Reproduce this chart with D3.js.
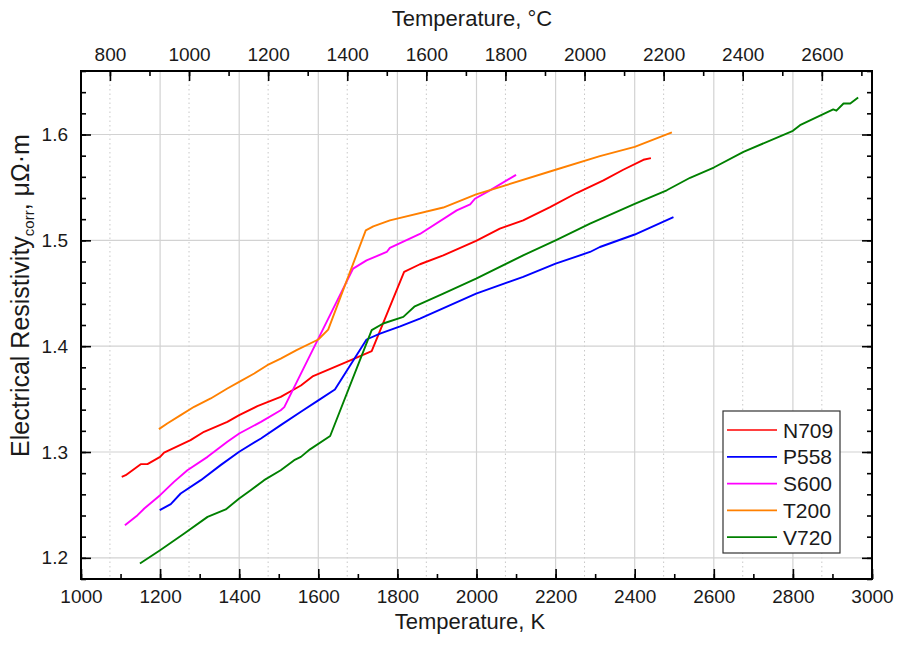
<!DOCTYPE html>
<html>
<head>
<meta charset="utf-8">
<script src="https://cdn.jsdelivr.net/npm/d3@7"></script>
<style>
  html, body { margin: 0; padding: 0; background: #fff; }
  svg { display: block; font-family: "Liberation Sans", Arial, sans-serif; }
</style>
</head>
<body>
<svg id="chart" width="900" height="647"></svg>
<script>
// Measured resistivity series: [temperature K, resistivity µΩ·m]
const n709 = [[1103,1.2765],[1113,1.2781],[1151,1.2885],[1168,1.2885],[1200,1.2954],[1210,1.2995],[1277,1.3112],[1311,1.3191],[1370,1.3285],[1400,1.3348],[1446,1.3433],[1505,1.3521],[1556,1.3628],[1587,1.3717],[1672,1.3852],[1735,1.3953],[1817,1.4701],[1857,1.4774],[1916,1.4858],[1999,1.4994],[2059,1.511],[2118,1.5189],[2186,1.5314],[2253,1.5447],[2321,1.5566],[2371,1.5667],[2422,1.5761],[2441,1.5777]];
const p558 = [[1199,1.245],[1227,1.2507],[1252,1.2608],[1303,1.2734],[1353,1.2876],[1400,1.3002],[1455,1.3128],[1505,1.3254],[1556,1.338],[1600,1.3488],[1642,1.3591],[1722,1.4063],[1756,1.4119],[1807,1.4187],[1857,1.4261],[1999,1.4497],[2118,1.4654],[2200,1.478],[2287,1.489],[2312,1.4937],[2400,1.5055],[2498,1.522]];
const s600 = [[1111,1.2309],[1143,1.2403],[1160,1.2466],[1200,1.2592],[1235,1.2718],[1269,1.2828],[1320,1.2954],[1370,1.3096],[1400,1.3175],[1455,1.3285],[1505,1.3395],[1514,1.3424],[1688,1.4733],[1722,1.4811],[1773,1.489],[1781,1.4928],[1857,1.506],[1950,1.5283],[1984,1.534],[1996,1.5393],[2034,1.5472],[2100,1.5619]];
const t200 = [[1197,1.3216],[1218,1.3269],[1252,1.3348],[1286,1.3427],[1328,1.3506],[1370,1.36],[1400,1.3663],[1438,1.3742],[1471,1.382],[1505,1.3883],[1545,1.3962],[1600,1.4063],[1625,1.4157],[1720,1.5094],[1739,1.5132],[1781,1.5189],[1916,1.531],[1999,1.5434],[2200,1.5667],[2312,1.5795],[2400,1.5883],[2494,1.602]];
const v720 = [[1149,1.1946],[1200,1.2072],[1261,1.223],[1320,1.2387],[1366,1.2457],[1400,1.2561],[1429,1.2639],[1463,1.2734],[1505,1.2828],[1539,1.2923],[1556,1.2954],[1579,1.3025],[1630,1.3151],[1735,1.4151],[1764,1.4214],[1815,1.4277],[1844,1.4377],[1916,1.4497],[1999,1.4638],[2118,1.4858],[2200,1.5],[2287,1.5157],[2400,1.5345],[2481,1.5473],[2540,1.5591],[2600,1.5688],[2675,1.5836],[2800,1.6035],[2818,1.6088],[2902,1.6237],[2910,1.6225],[2928,1.6293],[2945,1.6293],[2965,1.635]];

const seriesNames = ["N709", "P558", "S600", "T200", "V720"];
const seriesData = [n709, p558, s600, t200, v720];
const seriesColors = ["#ff0000", "#0000ff", "#ff00ff", "#ff8000", "#008000"];

const kelvinTicks = [1000, 1200, 1400, 1600, 1800, 2000, 2200, 2400, 2600, 2800, 3000];
const celsiusTicks = [800, 1000, 1200, 1400, 1600, 1800, 2000, 2200, 2400, 2600];
const rhoTicks = [1.2, 1.3, 1.4, 1.5, 1.6];

const svg = d3.select("#chart");
const m = { left: 81, top: 71, right: 872, bottom: 579 };

const x = d3.scaleLinear().domain([1000, 3000]).range([m.left, m.right]);
const xc = d3.scaleLinear().domain([1000 - 273.15, 3000 - 273.15]).range([m.left, m.right]);
const y = d3.scaleLinear().domain([1.18, 1.66]).range([m.bottom, m.top]);

// grid: solid at kelvin / resistivity majors, dotted at celsius majors
const grid = svg.append("g");
grid.selectAll(".gc").data(celsiusTicks).join("line")
  .attr("x1", d => xc(d)).attr("x2", d => xc(d))
  .attr("y1", m.top).attr("y2", m.bottom)
  .attr("stroke", "#c8c8c8").attr("stroke-width", 1).attr("stroke-dasharray", "1.5,3");
grid.selectAll(".gk").data(kelvinTicks.slice(1, -1)).join("line")
  .attr("x1", d => x(d)).attr("x2", d => x(d))
  .attr("y1", m.top).attr("y2", m.bottom)
  .attr("stroke", "#d2d2d2").attr("stroke-width", 1.2);
grid.selectAll(".gy").data(rhoTicks).join("line")
  .attr("x1", m.left).attr("x2", m.right)
  .attr("y1", d => y(d)).attr("y2", d => y(d))
  .attr("stroke", "#d2d2d2").attr("stroke-width", 1.2);

// series lines
const line = d3.line().x(d => x(d[0])).y(d => y(d[1]));
svg.append("g").selectAll("path").data(seriesData).join("path")
  .attr("d", line)
  .attr("fill", "none")
  .attr("stroke", (d, i) => seriesColors[i])
  .attr("stroke-width", 1.9)
  .attr("stroke-linejoin", "round");

// axes with inward ticks
const tickFont = "19px";
function styleAxis(g) {
  g.select(".domain").remove();
  g.selectAll(".tick line").attr("stroke", "#000").attr("stroke-width", 1.6);
  g.selectAll(".tick text").attr("fill", "#1a1a1a").style("font-size", tickFont).style("font-family", "Liberation Sans, Arial, sans-serif");
}
const kMinor = d3.range(1000, 3001, 100);
const cMinor = d3.range(800, 2701, 100);
const rMinor = d3.range(1.18, 1.661, 0.02).map(v => +v.toFixed(2));

// bottom kelvin axis
svg.append("g").attr("transform", `translate(0,${m.bottom})`)
  .call(d3.axisBottom(x).tickValues(kMinor).tickSize(-5).tickFormat(""))
  .call(styleAxis);
svg.append("g").attr("transform", `translate(0,${m.bottom})`)
  .call(d3.axisBottom(x).tickValues(kelvinTicks).tickSize(-10).tickFormat(d3.format("d")))
  .call(styleAxis)
  .call(g => g.selectAll(".tick text").attr("y", 24).attr("dy", 0));

// top celsius axis
svg.append("g").attr("transform", `translate(0,${m.top})`)
  .call(d3.axisTop(xc).tickValues(cMinor).tickSize(-5).tickFormat(""))
  .call(styleAxis);
svg.append("g").attr("transform", `translate(0,${m.top})`)
  .call(d3.axisTop(xc).tickValues(celsiusTicks).tickSize(-10).tickFormat(d3.format("d")))
  .call(styleAxis)
  .call(g => g.selectAll(".tick text").attr("y", -10).attr("dy", 0));

// left resistivity axis
svg.append("g").attr("transform", `translate(${m.left},0)`)
  .call(d3.axisLeft(y).tickValues(rMinor).tickSize(-5).tickFormat(""))
  .call(styleAxis);
svg.append("g").attr("transform", `translate(${m.left},0)`)
  .call(d3.axisLeft(y).tickValues(rhoTicks).tickSize(-10).tickFormat(d3.format(".1f")))
  .call(styleAxis)
  .call(g => g.selectAll(".tick text").attr("x", -13));

// right axis (ticks only)
svg.append("g").attr("transform", `translate(${m.right},0)`)
  .call(d3.axisRight(y).tickValues(rMinor).tickSize(-5).tickFormat(""))
  .call(styleAxis);
svg.append("g").attr("transform", `translate(${m.right},0)`)
  .call(d3.axisRight(y).tickValues(rhoTicks).tickSize(-10).tickFormat(""))
  .call(styleAxis);

// frame
svg.append("rect")
  .attr("x", m.left).attr("y", m.top)
  .attr("width", m.right - m.left).attr("height", m.bottom - m.top)
  .attr("fill", "none").attr("stroke", "#000").attr("stroke-width", 2);

// axis titles
svg.append("text").attr("x", 470).attr("y", 629).attr("text-anchor", "middle")
  .style("font-size", "22px").attr("fill", "#1a1a1a").text("Temperature, K");
svg.append("text").attr("x", 472).attr("y", 26).attr("text-anchor", "middle")
  .style("font-size", "22px").attr("fill", "#1a1a1a").text("Temperature, °C");

const yTitle = svg.append("text")
  .attr("transform", "translate(29,457) rotate(-90)")
  .attr("text-anchor", "start")
  .style("font-size", "25px").attr("fill", "#1a1a1a");
yTitle.append("tspan").text("Electrical Resistivity");
yTitle.append("tspan").attr("dy", 5).style("font-size", "15px").text("corr");
yTitle.append("tspan").attr("dy", -5).text(", μΩ·m");

// legend
const lg = svg.append("g");
lg.append("rect").attr("x", 723).attr("y", 411).attr("width", 117).attr("height", 142)
  .attr("fill", "#fff").attr("stroke", "#333").attr("stroke-width", 1.2);
const rows = lg.selectAll("g.row").data(seriesNames).join("g")
  .attr("transform", (d, i) => `translate(0,${430 + i * 26.8})`);
rows.append("line").attr("x1", 727).attr("x2", 777).attr("y1", 0).attr("y2", 0)
  .attr("stroke", (d, i) => seriesColors[i]).attr("stroke-width", 1.7);
rows.append("text").attr("x", 783).attr("y", 7.5)
  .style("font-size", "21px").attr("fill", "#1a1a1a").text(d => d);
</script>
</body>
</html>
